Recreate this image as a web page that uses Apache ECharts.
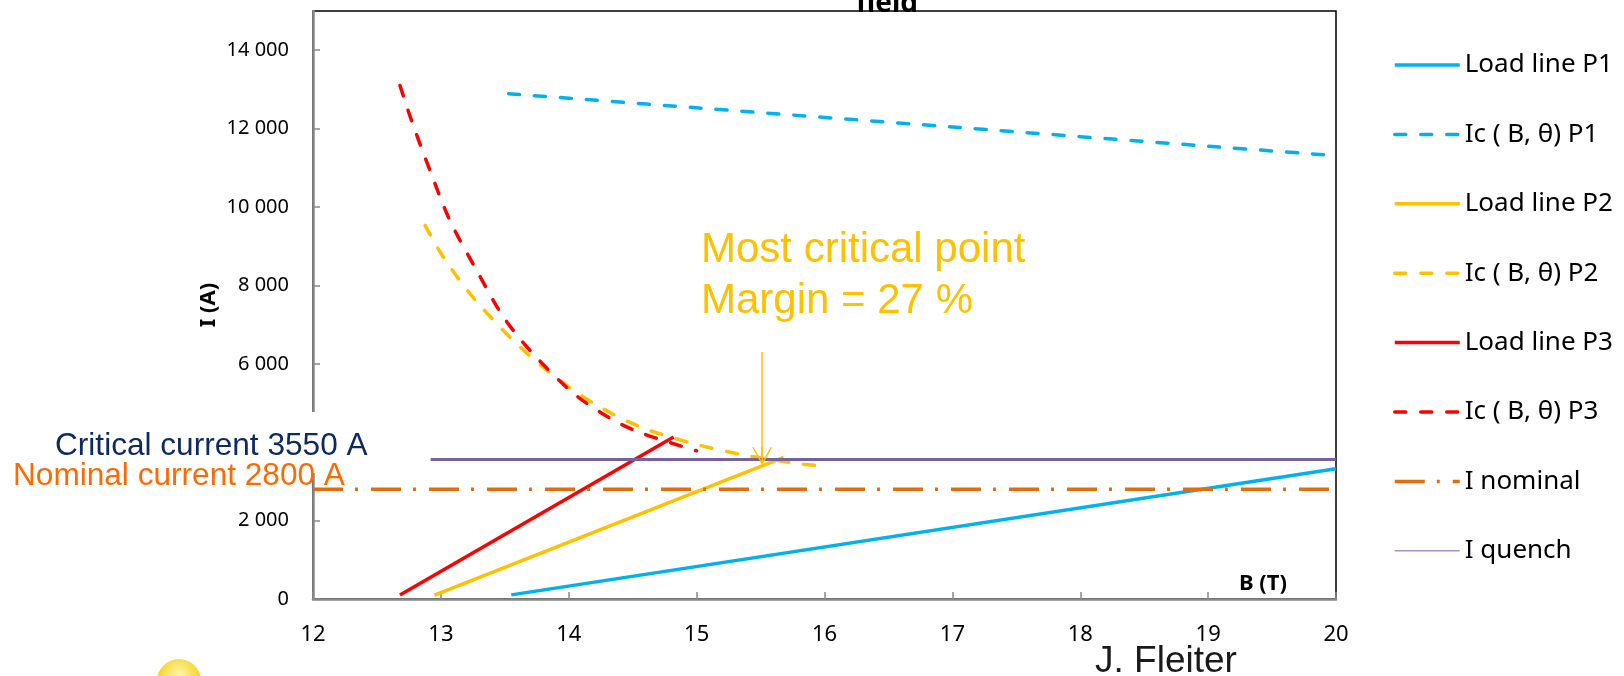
<!DOCTYPE html>
<html>
<head>
<meta charset="utf-8">
<script src="https://cdn.jsdelivr.net/npm/echarts@6/dist/echarts.min.js"></script>
<style>
html, body { margin: 0; padding: 0; background: #fff; }
#chart { width: 1624px; height: 676px; }
</style>
</head>
<body>
<div id="chart"></div>
<script>
// B (T) / I (A) values
var bLoad1 = [13.55, 20];
var iLoad1 = [105, 3325];
var bIc1 = [13.53, 15, 17, 19, 20];
var iIc1 = [12890, 12530, 12040, 11550, 11310];

var bLoad2 = [12.95, 15.68];
var iLoad2 = [100, 3610];
var bIc2 = [12.876, 13.02, 13.25, 13.54, 13.83, 14.19, 14.56, 14.98, 15.39, 15.81, 16.02];
var iIc2 = [9530, 8720, 7700, 6680, 5830, 5000, 4390, 3960, 3660, 3450, 3380];

var bLoad3 = [12.68, 14.82];
var iLoad3 = [100, 4130];
var bIc3 = [12.68, 12.77, 12.915, 13.07, 13.28, 13.49, 13.72, 14.04, 14.35, 14.58, 15.0];
var iIc3 = [13100, 12210, 10930, 9660, 8380, 7190, 6260, 5240, 4560, 4220, 3780];

var bNominal = [12, 20];
var iNominal = [2800, 2800];
var bQuench = [12.92, 20];
var iQuench = [3560, 3560];

// arrow pointing at the most critical point
var arrowB = 15.513;
var arrowFrom = 6300;
var arrowTo = 3640;

var chart = echarts.init(document.getElementById('chart'));

function pairs(xs, ys) {
    var out = [];
    for (var i = 0; i < xs.length; i++) {
        out.push([xs[i], ys[i]]);
    }
    return out;
}

function line(name, xs, ys, color, width, type, smooth) {
    return {
        name: name,
        type: 'line',
        data: pairs(xs, ys),
        symbol: 'none',
        smooth: smooth || false,
        animation: false,
        lineStyle: { color: color, width: width, type: type, cap: type === 'solid' ? 'butt' : 'round' },
        itemStyle: { color: color }
    };
}

var dash = [11, 15];
var blue = '#00B0F0', yellow = '#FFC000', red = '#FF0000', orange = '#E46C0A', purple = '#74619E';

var series = [
    line('Load line P1', bLoad1, iLoad1, blue, 3.5, 'solid'),
    line('Ic ( B, θ) P1', bIc1, iIc1, blue, 3.5, dash, 0.3),
    line('Load line P2', bLoad2, iLoad2, yellow, 3.5, 'solid'),
    line('Ic ( B, θ) P2', bIc2, iIc2, yellow, 3.5, dash, 0.3),
    line('Load line P3', bLoad3, iLoad3, red, 3.5, 'solid'),
    line('Ic ( B, θ) P3', bIc3, iIc3, red, 3.5, dash, 0.3),
    line('I nominal', bNominal, iNominal, orange, 3.5, [30, 12, 3, 13]),
    line('I quench', bQuench, iQuench, purple, 3, 'solid')
];
series[6].lineStyle.cap = 'butt';

series[2].markLine = {
    silent: true,
    animation: false,
    symbol: ['none', 'path://M10,0 L20,18 L18.4,18 L10.8,4.5 L10.8,18 L9.2,18 L9.2,4.5 L1.6,18 L0,18 Z'],
    symbolSize: [20, 18],
    label: { show: false },
    lineStyle: { color: yellow, width: 1.5, type: 'solid' },
    data: [[{ coord: [arrowB, arrowFrom] }, { coord: [arrowB, arrowTo] }]]
};

var option = {
    backgroundColor: '#fff',
    textStyle: { fontFamily: 'Noto Sans' },
    grid: {
        left: 313, right: 288, top: 11, bottom: 77,
        show: true, borderColor: '#000', borderWidth: 1.5
    },
    legend: {
        orient: 'vertical',
        left: 1388,
        top: 45,
        itemWidth: 65,
        itemHeight: 14,
        itemGap: 39.4,
        itemStyle: { opacity: 0 },
        lineStyle: { width: 3.5 },
        textStyle: { fontFamily: 'Noto Sans', fontSize: 26, color: '#000', lineHeight: 30 },
        data: [
            'Load line P1', 'Ic ( B, θ) P1', 'Load line P2', 'Ic ( B, θ) P2',
            'Load line P3', 'Ic ( B, θ) P3', 'I nominal',
            { name: 'I quench', lineStyle: { width: 1.5, color: '#A495C4' } }
        ]
    },
    xAxis: {
        type: 'value',
        min: 12, max: 20, interval: 1,
        axisLine: { lineStyle: { color: '#888', width: 2.5 } },
        axisTick: { inside: true, length: 7, lineStyle: { color: '#888', width: 1.5 } },
        axisLabel: { margin: 25, fontFamily: 'Noto Sans', fontSize: 22, color: '#000' },
        splitLine: { show: false }
    },
    yAxis: {
        type: 'value',
        min: 0, max: 15000, interval: 2000,
        name: 'I (A)',
        nameLocation: 'middle',
        nameRotate: 90,
        nameGap: 93,
        nameMoveOverlap: false,
        nameTextStyle: { fontFamily: 'Noto Sans', fontSize: 22, fontWeight: 'bold', color: '#000' },
        axisLine: { show: true, lineStyle: { color: '#888', width: 2.5 } },
        axisTick: { show: true, inside: true, length: 7, lineStyle: { color: '#888', width: 1.5 } },
        axisLabel: {
            margin: 24,
            showMaxLabel: false,
            fontFamily: 'Noto Sans', fontSize: 20, color: '#000',
            formatter: function (v) {
                return String(v).replace(/\B(?=(\d{3})+(?!\d))/g, ' ');
            }
        },
        splitLine: { show: false }
    },
    series: series,
    graphic: [
        {
            type: 'text', position: [887, 4], z: 10,
            style: { text: 'field', font: 'bold 28px "Noto Sans"', fill: '#000', textAlign: 'center', textVerticalAlign: 'middle' }
        },
        {
            type: 'text', position: [1263, 584], z: 10,
            style: { text: 'B (T)', font: 'bold 22px "Noto Sans"', fill: '#000', textAlign: 'center', textVerticalAlign: 'middle' }
        },
        {
            type: 'rect', z: 20,
            shape: { x: 40, y: 412, width: 355, height: 61 },
            style: { fill: '#fff' }
        },
        {
            type: 'text', position: [55, 446], z: 21,
            style: { text: 'Critical current 3550 A', font: '31.6px "Liberation Sans"', fill: '#0E2A62', textVerticalAlign: 'middle' }
        },
        {
            type: 'text', position: [13, 476], z: 21,
            style: { text: 'Nominal current 2800 A', font: '31.6px "Liberation Sans"', fill: '#FF6A00', textVerticalAlign: 'middle' }
        },
        {
            type: 'text', position: [701, 250], z: 21,
            style: { text: 'Most critical point', font: '42px "Liberation Sans"', fill: yellow, textVerticalAlign: 'middle' }
        },
        {
            type: 'text', position: [701, 301], z: 21,
            style: { text: 'Margin = 27 %', font: '42px "Liberation Sans"', fill: yellow, textVerticalAlign: 'middle' }
        },
        {
            type: 'text', position: [1095, 662], z: 21,
            style: { text: 'J. Fleiter', font: '37px "Liberation Sans"', fill: '#1a1a1a', textVerticalAlign: 'middle' }
        },
        {
            type: 'circle', z: 21,
            shape: { cx: 179, cy: 681, r: 22 },
            style: {
                fill: new echarts.graphic.RadialGradient(0.5, 0.35, 0.6, [
                    { offset: 0, color: '#FFF6A8' },
                    { offset: 0.7, color: '#F5D83A' },
                    { offset: 1, color: '#EBCB2A' }
                ])
            }
        }
    ]
};

chart.setOption(option);
</script>
</body>
</html>
